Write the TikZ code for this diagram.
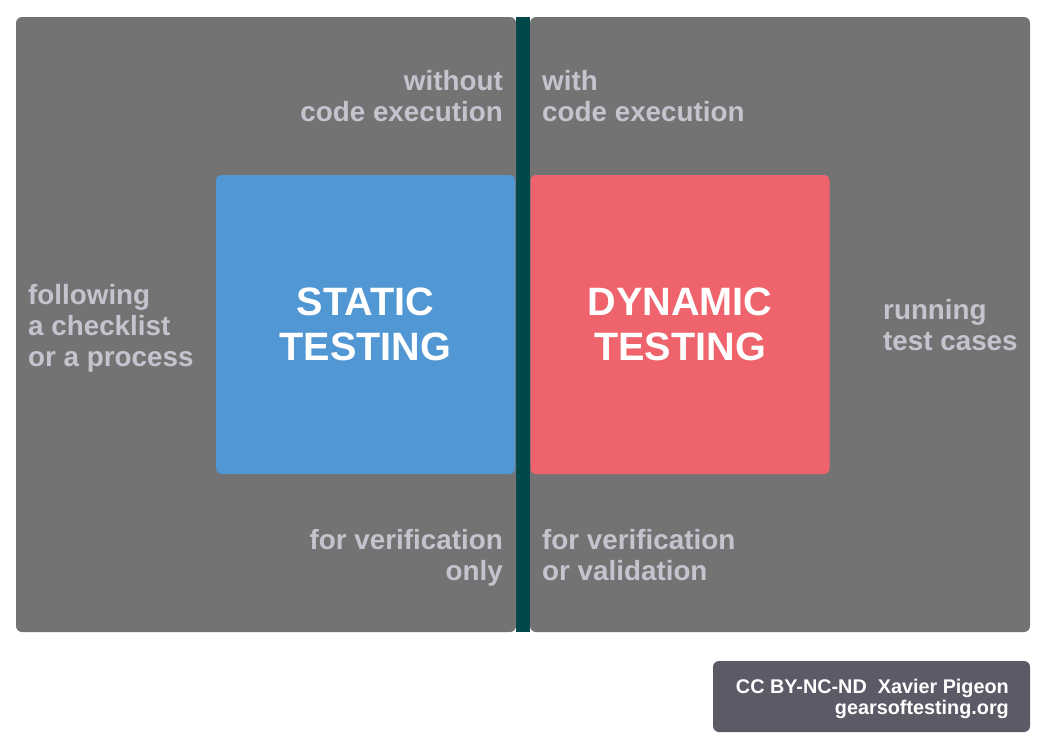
\documentclass[tikz,border=0pt]{standalone}
\usepackage{fontspec}
\setmainfont{Liberation Sans}
\definecolor{panelgray}{HTML}{737373}
\definecolor{notegray}{HTML}{C4C4CE}
\definecolor{staticblue}{HTML}{5197D3}
\definecolor{dynamicred}{HTML}{EF636C}
\definecolor{dividerteal}{HTML}{00484A}
\definecolor{creditgray}{HTML}{5B5B67}
\tikzset{
  panel/.style={fill=panelgray, rounded corners=6pt},
  note/.style={text=notegray, inner sep=0pt, font=\bfseries\fontsize{27.8}{31}\selectfont},
  testbox/.style={minimum width=299pt, minimum height=299pt, inner sep=0pt,
    rounded corners=5pt, align=center, text=white,
    font=\bfseries\fontsize{39.6}{45}\selectfont}
}
\begin{document}
\begin{tikzpicture}[x=1pt,y=-1pt]
  \useasboundingbox (0,0) rectangle (1046,750);
  % two halves with the divider
  \fill[dividerteal] (516,17) rectangle (530,632);
  \fill[panel] (16,17) rectangle (516,632);
  \fill[panel] (530,17) rectangle (1030,632);
  % the two kinds of testing
  \node[testbox, fill=staticblue] (static) at (365.5,324.5) {STATIC\\TESTING};
  \node[testbox, fill=dynamicred] (dynamic) at (680,324.5) {DYNAMIC\\TESTING};
  % notes, static side
  \node[note, align=right, anchor=east] (without) at (503,96.4) {without\\code execution};
  \node[note, align=left, anchor=west] (checklist) at (28,328.5) {following\\a checklist\\or a process};
  \node[note, align=right, anchor=east] (verifonly) at (503,558) {for verification\\only};
  % notes, dynamic side
  \node[note, align=left, anchor=west] (with) at (542,96.4) {with\\code execution};
  \node[note, align=left, anchor=west] (running) at (883,325.5) {running\\test cases};
  \node[note, align=left, anchor=west] (verifvalid) at (542,555.4) {for verification\\or validation};
  % credit
  \fill[creditgray, rounded corners=6pt] (713,661) rectangle (1030,732);
  \node[text=white, inner sep=0pt, align=right, anchor=east,
    font=\bfseries\fontsize{19.8}{21}\selectfont] (credit) at (1009,698.5)
    {CC BY-NC-ND~~Xavier Pigeon\\gearsoftesting.org};
\end{tikzpicture}
\end{document}
